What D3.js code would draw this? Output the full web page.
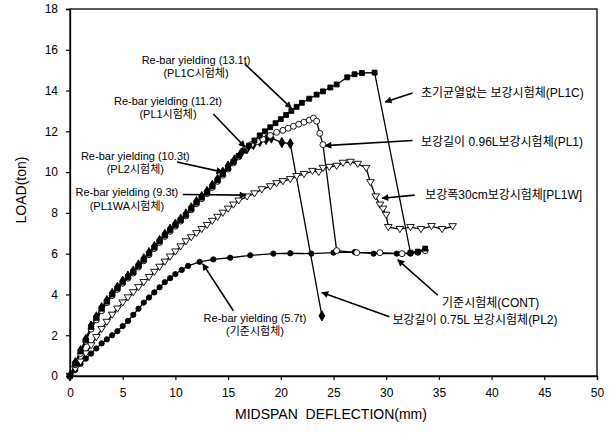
<!DOCTYPE html>
<html>
<head>
<meta charset="utf-8">
<script src="https://cdn.jsdelivr.net/npm/d3@7"></script>
<style>
  html, body { margin: 0; padding: 0; background: #fff; }
  svg { display: block; }
  text { font-family: "Liberation Sans", Arial, "Noto Sans CJK KR", sans-serif; fill: #000; }
</style>
</head>
<body>
<svg id="chart" width="614" height="439"></svg>
<script>
// ---------------- DATA ----------------
const xTicks = [0, 5, 10, 15, 20, 25, 30, 35, 40, 45, 50];
const yTicks = [0, 2, 4, 6, 8, 10, 12, 14, 16, 18];

// [deflection mm, load ton]
const seriesPL1C = [[0,0],[0.5,0.6],[1,1.2],[1.5,1.75],[2,2.4],[2.5,2.85],[3,3.3],[3.5,3.65],[4,4.0],[4.5,4.3],[5,4.6],[5.5,4.85],[6,5.1],[6.5,5.4],[7,5.7],[7.5,6.0],[8,6.3],[8.5,6.6],[9,6.9],[9.5,7.15],[10,7.4],[10.5,7.65],[11,7.9],[11.5,8.2],[12,8.5],[12.5,8.75],[13,9.0],[13.5,9.3],[14,9.6],[14.5,9.9],[15,10.2],[15.5,10.5],[16,10.8],[16.5,11.05],[17,11.3],[17.5,11.55],[18,11.8],[18.5,12.0],[19,12.2],[19.5,12.4],[20,12.6],[20.5,12.8],[21,13.0],[21.5,13.2],[22,13.4],[22.7,13.6],[23.4,13.8],[24,13.96],[24.7,14.15],[25.3,14.3],[26.3,14.65],[27,14.8],[27.7,14.86],[28.9,14.88],[32.3,6.05],[33,6.1],[33.7,6.25]];

const seriesPL1 = [[0,0],[0.5,0.55],[1,1.1],[1.5,1.7],[2,2.3],[2.5,2.75],[3,3.2],[3.5,3.6],[4,3.95],[4.5,4.25],[5,4.55],[5.5,4.8],[6,5.05],[6.5,5.35],[7,5.65],[7.5,5.95],[8,6.25],[8.5,6.55],[9,6.85],[9.5,7.1],[10,7.35],[10.5,7.6],[11,7.85],[11.5,8.15],[12,8.45],[12.5,8.7],[13,8.95],[13.5,9.25],[14,9.55],[14.5,9.85],[15,10.15],[15.5,10.45],[16,10.75],[16.6,11.1],[17.2,11.35],[17.8,11.5],[18.3,11.62],[19,11.8],[19.6,11.95],[20.2,12.05],[20.7,12.15],[21.2,12.25],[21.7,12.35],[22.2,12.45],[22.7,12.55],[23.1,12.65],[23.4,12.5],[23.7,11.9],[24,11.35],[25.3,6.15],[27.2,6.05],[29.4,6.05],[31.5,6.0],[33.7,6.15]];

const seriesPL2 = [[0,0],[0.5,0.65],[1,1.25],[1.5,1.8],[2,2.45],[2.5,2.9],[3,3.35],[3.5,3.7],[4,4.05],[4.5,4.35],[5,4.65],[5.5,4.9],[6,5.15],[6.5,5.45],[7,5.75],[7.5,6.05],[8,6.35],[8.5,6.65],[9,6.95],[9.5,7.2],[10,7.45],[10.5,7.7],[11,7.95],[11.5,8.25],[12,8.55],[12.5,8.8],[13,9.05],[13.5,9.35],[14,9.65],[14.5,10.0],[15,10.3],[15.6,10.6],[16.2,10.9],[16.8,11.15],[17.4,11.35],[18,11.5],[18.6,11.6],[19.1,11.67],[20.1,11.45],[20.9,11.4],[23.9,2.95]];

const seriesPL1W = [[0,0],[0.5,0.35],[1,0.7],[1.5,1.1],[2,1.5],[2.5,1.9],[3,2.3],[3.5,2.65],[4,3.0],[4.5,3.3],[5,3.6],[5.5,3.85],[6,4.1],[6.5,4.35],[7,4.6],[7.5,4.85],[8,5.1],[8.5,5.35],[9,5.6],[9.5,5.85],[10,6.1],[10.5,6.35],[11,6.6],[11.5,6.8],[12,7.0],[12.5,7.2],[13,7.4],[13.5,7.6],[14,7.8],[14.5,8.0],[15,8.2],[15.5,8.4],[16,8.6],[16.8,8.8],[17.5,8.95],[18.2,9.15],[19,9.3],[19.6,9.45],[20.2,9.55],[20.9,9.65],[21.5,9.8],[22.2,9.9],[23,10.05],[23.6,10.0],[24,10.2],[24.6,10.25],[25.3,10.3],[25.9,10.45],[26.6,10.5],[27.3,10.4],[28.1,10.2],[28.5,9.5],[29.0,8.8],[29.4,8.4],[29.7,8.2],[30.0,7.9],[30.2,7.3],[31.3,7.2],[32.3,7.3],[33.3,7.2],[34.3,7.35],[35.3,7.2],[36.3,7.34]];

const seriesCONT = [[0,0],[0.5,0.3],[1,0.6],[1.5,0.85],[2,1.1],[2.5,1.35],[3,1.6],[3.5,1.8],[4,2.0],[4.5,2.2],[5,2.45],[5.5,2.7],[6,3.0],[6.5,3.3],[7,3.6],[7.5,3.85],[8,4.1],[8.5,4.35],[9,4.6],[9.5,4.8],[10,5.0],[10.6,5.2],[11.2,5.4],[12.3,5.6],[13.6,5.72],[15.2,5.8],[17.1,5.92],[19.3,6.0],[20.9,6.02],[22.9,6.0],[25,6.05],[27,6.08],[28.8,6.0],[31,6.0],[32.3,6.0],[33,6.05],[33.7,6.2]];

const xTitle = "MIDSPAN  DEFLECTION(mm)";
const yTitle = "LOAD(ton)";

// ---------------- LAYOUT ----------------
const svg = d3.select("#chart");
const x = d3.scaleLinear().domain([0, 50]).range([70, 597]);
const y = d3.scaleLinear().domain([0, 18]).range([376, 9]);

// frame
svg.append("rect").attr("x", x(0)).attr("y", y(18))
  .attr("width", x(50) - x(0)).attr("height", y(0) - y(18))
  .attr("fill", "none").attr("stroke", "#000").attr("stroke-width", 1.3);

const gx = svg.append("g").attr("transform", `translate(0,${y(0)})`)
  .call(d3.axisBottom(x).tickValues(xTicks).tickSize(4).tickPadding(8).tickFormat(d3.format("d")));
const gy = svg.append("g").attr("transform", `translate(${x(0)},0)`)
  .call(d3.axisLeft(y).tickValues(yTicks).tickSize(4).tickPadding(8).tickFormat(d3.format("d")));
[gx, gy].forEach(g => {
  g.select(".domain").attr("stroke", "#000").attr("stroke-width", 1.3);
  g.selectAll(".tick line").attr("stroke", "#000").attr("stroke-width", 1.2);
  g.selectAll(".tick text").style("font-size", "12px").style("font-family", "Liberation Sans, Arial, sans-serif").attr("fill", "#000");
});

svg.append("text").attr("x", 331).attr("y", 419).attr("text-anchor", "middle")
  .style("font-size", "14px").style("white-space", "pre").text(xTitle);
svg.append("text").attr("transform", "translate(26,190) rotate(-90)").attr("text-anchor", "middle")
  .style("font-size", "14px").text(yTitle);

// ---------------- SERIES ----------------
const line = d3.line().x(d => x(d[0])).y(d => y(d[1]));
const allSeries = [
  { data: seriesCONT, sym: d3.symbolCircle, size: 22, fill: "#000" },
  { data: seriesPL1W, sym: "triDown", size: 26, fill: "#fff" },
  { data: seriesPL2, sym: d3.symbolDiamond, size: 30, fill: "#000" },
  { data: seriesPL1, sym: d3.symbolCircle, size: 28, fill: "#fff" },
  { data: seriesPL1C, sym: d3.symbolSquare, size: 24, fill: "#000" }
];
const triDown = { draw(ctx, size) { const s = Math.sqrt(size) * 0.75; ctx.moveTo(-s, -s*0.7); ctx.lineTo(s, -s*0.7); ctx.lineTo(0, s*0.9); ctx.closePath(); } };

allSeries.forEach(s => {
  svg.append("path").datum(s.data).attr("d", line)
    .attr("fill", "none").attr("stroke", "#000").attr("stroke-width", 1.3);
});
allSeries.forEach(s => {
  const type = s.sym === "triDown" ? triDown : s.sym;
  svg.append("g").selectAll("path").data(s.data).join("path")
    .attr("transform", d => `translate(${x(d[0])},${y(d[1])})`)
    .attr("d", d3.symbol().type(type).size(s.size))
    .attr("fill", s.fill).attr("stroke", "#000").attr("stroke-width", 0.9);
});

// ---------------- ANNOTATIONS ----------------
svg.append("defs").append("marker").attr("id", "ah")
  .attr("viewBox", "0 0 10 10").attr("refX", 9).attr("refY", 5)
  .attr("markerWidth", 9).attr("markerHeight", 7).attr("markerUnits", "userSpaceOnUse")
  .attr("orient", "auto")
  .append("path").attr("d", "M0,0 L10,5 L0,10 Z").attr("fill", "#000");

// text anchor, position (data units) and arrow (data units)
const notes = [
  { lines: ["Re-bar yielding (13.1t)", "(PL1C시험체)"], anchor: "middle", at: [11.96, 15.5], arrow: [[16.6, 15.3], [21.0, 13.14]] },
  { lines: ["Re-bar yielding (11.2t)", "(PL1시험체)"], anchor: "middle", at: [9.3, 13.5], arrow: [[13.6, 12.85], [16.6, 11.23]] },
  { lines: ["Re-bar yielding (10.3t)", "(PL2시험체)"], anchor: "middle", at: [6.2, 10.8], arrow: [[10.15, 10.5], [14.5, 10.0]] },
  { lines: ["Re-bar yielding (9.3t)", "(PL1WA시험체)"], anchor: "middle", at: [5.4, 9.0], arrow: [[10.7, 8.9], [16.7, 8.87]] },
  { lines: ["초기균열없는 보강시험체(PL1C)"], anchor: "start", at: [33.3, 13.9], arrow: [[32.5, 13.88], [29.9, 13.44]] },
  { lines: ["보강길이 0.96L보강시험체(PL1)"], anchor: "start", at: [33.3, 11.5], arrow: [[32.5, 11.55], [24.2, 11.3]] },
  { lines: ["보강폭30cm보강시험체[PL1W]"], anchor: "start", at: [33.7, 8.9], arrow: [[32.7, 8.87], [29.6, 8.72]] },
  { lines: ["기준시험체(CONT)"], anchor: "start", at: [35.3, 3.6], arrow: [[34.9, 3.96], [31.1, 5.7]] },
  { lines: ["보강길이 0.75L 보강시험체(PL2)"], anchor: "start", at: [30.6, 2.75], arrow: [[30.3, 2.9], [23.9, 4.1]] },
  { lines: ["Re-bar yielding (5.7t)", "(기준시험체)"], anchor: "middle", at: [17.55, 2.85], arrow: [[15.5, 3.2], [12.6, 5.5]] }
];

notes.forEach(n => {
  const t = svg.append("text").attr("text-anchor", n.anchor)
    .attr("x", x(n.at[0])).attr("y", y(n.at[1]))
    .style("font-size", n.anchor === "start" ? "12px" : "11px");
  n.lines.forEach((l, i) => {
    t.append("tspan").attr("x", x(n.at[0])).attr("dy", i === 0 ? "0.35em" : "1.2em").text(l);
  });
  svg.append("line")
    .attr("x1", x(n.arrow[0][0])).attr("y1", y(n.arrow[0][1]))
    .attr("x2", x(n.arrow[1][0])).attr("y2", y(n.arrow[1][1]))
    .attr("stroke", "#000").attr("stroke-width", 1.6).attr("marker-end", "url(#ah)");
});
</script>
</body>
</html>
